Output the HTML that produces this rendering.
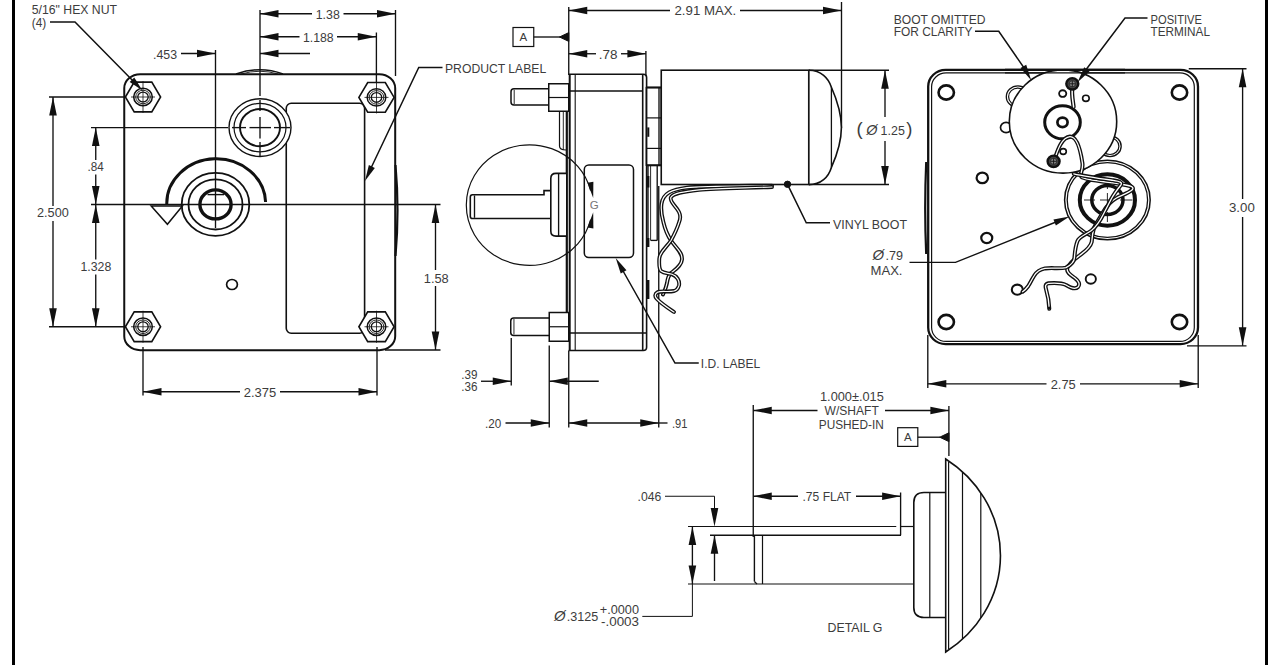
<!DOCTYPE html>
<html lang="en"><head><meta charset="utf-8"><title>Gearmotor Outline Drawing</title>
<style>
html,body{margin:0;padding:0;background:#fff;}
body{width:1280px;height:665px;overflow:hidden;}
svg{display:block;}
svg text{font-family:"Liberation Sans","DejaVu Sans",sans-serif;}
</style></head><body>
<svg width="1280" height="665" viewBox="0 0 1280 665">
<rect width="1280" height="665" fill="#fff"/>
<rect x="12" y="0" width="3" height="665" fill="#000"/>
<rect x="1265" y="0" width="3" height="665" fill="#000"/>
<path d="M236,74 Q260,65.5 283,74" fill="none" stroke="#111" stroke-width="1.5" />
<path d="M241,74 Q260,68.5 278,74" fill="none" stroke="#111" stroke-width="0.9" />
<rect x="124.25" y="74.25" width="270.95" height="275.95" rx="16" ry="14" fill="none" stroke="#111" stroke-width="2"/>
<path d="M395.5,165 Q399.5,210 395.5,256" fill="none" stroke="#111" stroke-width="2.2" />
<rect x="286.25" y="103.3" width="78.35" height="229.95" rx="5" ry="5" fill="none" stroke="#111" stroke-width="1.6"/>
<ellipse cx="260" cy="127.6" rx="31" ry="28.83" fill="#fff" stroke="#111" stroke-width="1.4"/>
<ellipse cx="260" cy="127.6" rx="26" ry="24.18" fill="none" stroke="#111" stroke-width="1.2"/>
<ellipse cx="260" cy="127.6" rx="20" ry="18.6" fill="none" stroke="#111" stroke-width="1.9"/>
<ellipse cx="215.5" cy="204.4" rx="33.8" ry="31.43" fill="#fff" stroke="#111" stroke-width="1.8"/>
<ellipse cx="215.5" cy="204.4" rx="27" ry="25.11" fill="none" stroke="#111" stroke-width="1.8"/>
<ellipse cx="215.5" cy="204.4" rx="15.6" ry="14.51" fill="none" stroke="#111" stroke-width="3.4"/>
<line x1="207.5" y1="194.6" x2="224" y2="194.6" stroke="#111" stroke-width="1.4" />
<path d="M265.6,202 A49.2,44.5 0 0 0 166.8,205" fill="none" stroke="#111" stroke-width="3" />
<path d="M151.2,206 L182.4,206 L167.4,224.3 Z" fill="#fff" stroke="#111" stroke-width="1.5" />
<ellipse cx="232" cy="284.5" rx="5.4" ry="5.02" fill="none" stroke="#111" stroke-width="1.7"/>
<path d="M125.4,97 L134.2,82.15 L151.8,82.15 L160.6,97 L151.8,111.85 L134.2,111.85 Z" fill="#fff" stroke="#111" stroke-width="1.6" />
<ellipse cx="143" cy="97" rx="9.3" ry="8.65" fill="none" stroke="#111" stroke-width="1.5"/>
<ellipse cx="143" cy="97" rx="7.3" ry="6.79" fill="none" stroke="#111" stroke-width="0.9"/>
<ellipse cx="143" cy="97" rx="5.2" ry="4.84" fill="none" stroke="#111" stroke-width="1.3"/>
<line x1="131" y1="97" x2="155" y2="97" stroke="#111" stroke-width="0.8" />
<line x1="143" y1="81" x2="143" y2="113" stroke="#111" stroke-width="0.8" />
<path d="M358.9,97.4 L367.7,82.55000000000001 L385.3,82.55000000000001 L394.1,97.4 L385.3,112.25 L367.7,112.25 Z" fill="#fff" stroke="#111" stroke-width="1.6" />
<ellipse cx="376.5" cy="97.4" rx="9.3" ry="8.65" fill="none" stroke="#111" stroke-width="1.5"/>
<ellipse cx="376.5" cy="97.4" rx="7.3" ry="6.79" fill="none" stroke="#111" stroke-width="0.9"/>
<ellipse cx="376.5" cy="97.4" rx="5.2" ry="4.84" fill="none" stroke="#111" stroke-width="1.3"/>
<line x1="364.5" y1="97.4" x2="388.5" y2="97.4" stroke="#111" stroke-width="0.8" />
<line x1="376.5" y1="81.4" x2="376.5" y2="113.4" stroke="#111" stroke-width="0.8" />
<path d="M125.4,326.75 L134.2,311.9 L151.8,311.9 L160.6,326.75 L151.8,341.6 L134.2,341.6 Z" fill="#fff" stroke="#111" stroke-width="1.6" />
<ellipse cx="143" cy="326.75" rx="9.3" ry="8.65" fill="none" stroke="#111" stroke-width="1.5"/>
<ellipse cx="143" cy="326.75" rx="7.3" ry="6.79" fill="none" stroke="#111" stroke-width="0.9"/>
<ellipse cx="143" cy="326.75" rx="5.2" ry="4.84" fill="none" stroke="#111" stroke-width="1.3"/>
<line x1="131" y1="326.75" x2="155" y2="326.75" stroke="#111" stroke-width="0.8" />
<line x1="143" y1="310.75" x2="143" y2="342.75" stroke="#111" stroke-width="0.8" />
<path d="M358.9,326.75 L367.7,311.9 L385.3,311.9 L394.1,326.75 L385.3,341.6 L367.7,341.6 Z" fill="#fff" stroke="#111" stroke-width="1.6" />
<ellipse cx="376.5" cy="326.75" rx="9.3" ry="8.65" fill="none" stroke="#111" stroke-width="1.5"/>
<ellipse cx="376.5" cy="326.75" rx="7.3" ry="6.79" fill="none" stroke="#111" stroke-width="0.9"/>
<ellipse cx="376.5" cy="326.75" rx="5.2" ry="4.84" fill="none" stroke="#111" stroke-width="1.3"/>
<line x1="364.5" y1="326.75" x2="388.5" y2="326.75" stroke="#111" stroke-width="0.8" />
<line x1="376.5" y1="310.75" x2="376.5" y2="342.75" stroke="#111" stroke-width="0.8" />
<line x1="215.5" y1="50" x2="215.5" y2="228" stroke="#111" stroke-width="1.35" />
<line x1="91" y1="204.5" x2="440.5" y2="204.5" stroke="#111" stroke-width="1.35" />
<line x1="260" y1="10" x2="260" y2="96" stroke="#111" stroke-width="1.35" />
<line x1="260" y1="100" x2="260" y2="111" stroke="#111" stroke-width="1.35" />
<line x1="260" y1="117" x2="260" y2="138.5" stroke="#111" stroke-width="1.35" />
<line x1="260" y1="142" x2="260" y2="157" stroke="#111" stroke-width="1.35" />
<line x1="91" y1="127.6" x2="228" y2="127.6" stroke="#111" stroke-width="1.35" />
<line x1="249.5" y1="127.6" x2="271" y2="127.6" stroke="#111" stroke-width="1.35" />
<line x1="232" y1="127.6" x2="246" y2="127.6" stroke="#111" stroke-width="1.35" />
<line x1="274" y1="127.6" x2="290" y2="127.6" stroke="#111" stroke-width="1.35" />
<line x1="395.5" y1="10" x2="395.5" y2="76" stroke="#111" stroke-width="1.35" />
<line x1="376.4" y1="32.5" x2="376.4" y2="82" stroke="#111" stroke-width="1.35" />
<line x1="49" y1="97" x2="124" y2="97" stroke="#111" stroke-width="1.35" />
<line x1="49" y1="326.75" x2="125" y2="326.75" stroke="#111" stroke-width="1.35" />
<line x1="143" y1="347" x2="143" y2="395.5" stroke="#111" stroke-width="1.35" />
<line x1="377" y1="347" x2="377" y2="395.5" stroke="#111" stroke-width="1.35" />
<line x1="385" y1="350" x2="440.5" y2="350" stroke="#111" stroke-width="1.35" />
<polygon points="260.00,13.75 278.50,9.95 278.50,17.55" fill="#111"/>
<polygon points="395.50,13.75 377.00,17.55 377.00,9.95" fill="#111"/>
<line x1="260" y1="13.75" x2="312" y2="13.75" stroke="#111" stroke-width="1.35" />
<line x1="343.5" y1="13.75" x2="395.5" y2="13.75" stroke="#111" stroke-width="1.35" />
<text x="315.7" y="18.6" font-size="13.2" text-anchor="start" fill="#3c3c3c" textLength="24.1" lengthAdjust="spacingAndGlyphs" >1.38</text>
<polygon points="260.00,36.75 278.50,32.95 278.50,40.55" fill="#111"/>
<polygon points="376.25,36.75 357.75,40.55 357.75,32.95" fill="#111"/>
<line x1="260" y1="36.75" x2="299.5" y2="36.75" stroke="#111" stroke-width="1.35" />
<line x1="337" y1="36.75" x2="376.25" y2="36.75" stroke="#111" stroke-width="1.35" />
<text x="303" y="41.6" font-size="13.2" text-anchor="start" fill="#3c3c3c" textLength="30.7" lengthAdjust="spacingAndGlyphs" >1.188</text>
<polygon points="215.50,53.50 197.00,57.30 197.00,49.70" fill="#111"/>
<line x1="181" y1="53.5" x2="215.5" y2="53.5" stroke="#111" stroke-width="1.35" />
<polygon points="260.00,53.50 278.50,49.70 278.50,57.30" fill="#111"/>
<line x1="260" y1="53.5" x2="310" y2="53.5" stroke="#111" stroke-width="1.35" />
<text x="153" y="58.5" font-size="13.2" text-anchor="start" fill="#3c3c3c" textLength="24" lengthAdjust="spacingAndGlyphs" >.453</text>
<polygon points="53.00,97.00 56.80,115.50 49.20,115.50" fill="#111"/>
<polygon points="53.00,326.75 49.20,308.25 56.80,308.25" fill="#111"/>
<line x1="53" y1="97" x2="53" y2="206" stroke="#111" stroke-width="1.35" />
<line x1="53" y1="221" x2="53" y2="326.75" stroke="#111" stroke-width="1.35" />
<text x="37" y="217" font-size="13.2" text-anchor="start" fill="#3c3c3c" textLength="31.75" lengthAdjust="spacingAndGlyphs" >2.500</text>
<polygon points="95.75,127.60 99.55,146.10 91.95,146.10" fill="#111"/>
<polygon points="95.75,204.50 91.95,186.00 99.55,186.00" fill="#111"/>
<line x1="95.75" y1="127.6" x2="95.75" y2="160" stroke="#111" stroke-width="1.35" />
<line x1="95.75" y1="174.5" x2="95.75" y2="204.5" stroke="#111" stroke-width="1.35" />
<text x="87.5" y="171.3" font-size="13.2" text-anchor="start" fill="#3c3c3c" textLength="16.25" lengthAdjust="spacingAndGlyphs" >.84</text>
<polygon points="95.75,204.50 99.55,223.00 91.95,223.00" fill="#111"/>
<polygon points="95.75,326.75 91.95,308.25 99.55,308.25" fill="#111"/>
<line x1="95.75" y1="204.5" x2="95.75" y2="259.5" stroke="#111" stroke-width="1.35" />
<line x1="95.75" y1="274.5" x2="95.75" y2="326.75" stroke="#111" stroke-width="1.35" />
<text x="80.5" y="271.3" font-size="13.2" text-anchor="start" fill="#3c3c3c" textLength="30.75" lengthAdjust="spacingAndGlyphs" >1.328</text>
<polygon points="143.00,391.75 161.50,387.95 161.50,395.55" fill="#111"/>
<polygon points="377.00,391.75 358.50,395.55 358.50,387.95" fill="#111"/>
<line x1="143" y1="391.75" x2="240" y2="391.75" stroke="#111" stroke-width="1.35" />
<line x1="280" y1="391.75" x2="377" y2="391.75" stroke="#111" stroke-width="1.35" />
<text x="243.75" y="396.75" font-size="13.2" text-anchor="start" fill="#3c3c3c" textLength="32.5" lengthAdjust="spacingAndGlyphs" >2.375</text>
<polygon points="435.50,204.50 439.30,223.00 431.70,223.00" fill="#111"/>
<polygon points="435.50,350.00 431.70,331.50 439.30,331.50" fill="#111"/>
<line x1="435.5" y1="204.5" x2="435.5" y2="270" stroke="#111" stroke-width="1.35" />
<line x1="435.5" y1="286" x2="435.5" y2="350" stroke="#111" stroke-width="1.35" />
<text x="423.75" y="282.5" font-size="13.2" text-anchor="start" fill="#3c3c3c" textLength="25" lengthAdjust="spacingAndGlyphs" >1.58</text>
<text x="31.75" y="14" font-size="12.2" text-anchor="start" fill="#3c3c3c" textLength="85.25" lengthAdjust="spacingAndGlyphs" >5/16&quot; HEX NUT</text>
<text x="31.75" y="27.2" font-size="12" text-anchor="start" fill="#3c3c3c" textLength="14.5" lengthAdjust="spacingAndGlyphs" >(4)</text>
<path d="M50,22 L75,22 L138,86" fill="none" stroke="#111" stroke-width="1.5" />
<polygon points="142.50,90.50 129.70,82.04 134.27,77.56" fill="#111"/>
<text x="445" y="73.25" font-size="12.2" text-anchor="start" fill="#3c3c3c" textLength="101.25" lengthAdjust="spacingAndGlyphs" >PRODUCT LABEL</text>
<path d="M442.5,67.5 L418.75,67.5 L371,168" fill="none" stroke="#111" stroke-width="1.5" />
<polygon points="365.00,181.00 368.85,165.12 374.82,167.94" fill="#111"/>
<line x1="568.75" y1="7" x2="568.75" y2="75" stroke="#111" stroke-width="1.35" />
<line x1="841.5" y1="2" x2="841.5" y2="128" stroke="#111" stroke-width="1.35" />
<line x1="645.9" y1="51" x2="645.9" y2="76" stroke="#111" stroke-width="1.35" />
<polygon points="568.75,10.50 587.25,6.70 587.25,14.30" fill="#111"/>
<polygon points="841.50,10.50 823.00,14.30 823.00,6.70" fill="#111"/>
<line x1="568.75" y1="10.5" x2="670" y2="10.5" stroke="#111" stroke-width="1.35" />
<line x1="740" y1="10.5" x2="841.5" y2="10.5" stroke="#111" stroke-width="1.35" />
<text x="674.5" y="15.2" font-size="13" text-anchor="start" fill="#3c3c3c" textLength="61.75" lengthAdjust="spacingAndGlyphs" >2.91 MAX.</text>
<polygon points="568.75,53.75 587.25,49.95 587.25,57.55" fill="#111"/>
<polygon points="645.90,53.75 627.40,57.55 627.40,49.95" fill="#111"/>
<line x1="568.75" y1="53.75" x2="596" y2="53.75" stroke="#111" stroke-width="1.35" />
<line x1="621" y1="53.75" x2="645.9" y2="53.75" stroke="#111" stroke-width="1.35" />
<text x="598.75" y="58.6" font-size="13.2" text-anchor="start" fill="#3c3c3c" textLength="18.75" lengthAdjust="spacingAndGlyphs" >.78</text>
<rect x="513" y="27.5" width="20.75" height="19.0" rx="0" ry="0" fill="none" stroke="#111" stroke-width="1.2"/>
<text x="523.4" y="41.2" font-size="11.5" text-anchor="middle" fill="#3c3c3c" >A</text>
<line x1="533.75" y1="37" x2="560" y2="37" stroke="#111" stroke-width="1.35" />
<path d="M559.5,37 L568.75,32.6 L568.75,41.4 Z" fill="#111" stroke="#111" stroke-width="1" />
<path d="M548.75,88.75 L514,88.75 Q511,88.75 511,91.75 L511,102 Q511,105 514,105 L548.75,105" fill="#fff" stroke="#111" stroke-width="1.5" />
<line x1="514.2" y1="89.75" x2="514.2" y2="104" stroke="#111" stroke-width="0.9" />
<rect x="548.75" y="83.75" width="20.0" height="27.5" fill="#fff" stroke="#111" stroke-width="1.5"/>
<line x1="548.75" y1="97.5" x2="568.75" y2="97.5" stroke="#111" stroke-width="1.2" />
<path d="M549.25,318 L513.75,318 Q510.75,318 510.75,321 L510.75,332.5 Q510.75,335.5 513.75,335.5 L549.25,335.5" fill="#fff" stroke="#111" stroke-width="1.5" />
<line x1="513.95" y1="319" x2="513.95" y2="334.5" stroke="#111" stroke-width="0.9" />
<rect x="549.25" y="312.5" width="19.5" height="28.75" fill="#fff" stroke="#111" stroke-width="1.5"/>
<line x1="549.25" y1="326.75" x2="568.75" y2="326.75" stroke="#111" stroke-width="1.2" />
<path d="M559.5,111.25 L559.5,146 Q559.5,150 566,150" fill="none" stroke="#111" stroke-width="1.2" />
<line x1="563.3" y1="111.25" x2="563.3" y2="150" stroke="#111" stroke-width="0.9" />
<line x1="566.8" y1="111.25" x2="566.8" y2="312.5" stroke="#111" stroke-width="2.2" />
<line x1="569.7" y1="74.25" x2="569.7" y2="350.5" stroke="#111" stroke-width="2" />
<path d="M568.75,74.25 L643.3,74.25 Q646.6,74.25 646.6,77.5 L646.6,347.2 Q646.6,350.5 643.3,350.5 L568.75,350.5" fill="none" stroke="#111" stroke-width="1.6" />
<line x1="575.2" y1="74.25" x2="575.2" y2="350.5" stroke="#111" stroke-width="1.1" />
<line x1="642.7" y1="74.25" x2="642.7" y2="350.5" stroke="#111" stroke-width="1.6" />
<line x1="569" y1="91" x2="642.7" y2="91" stroke="#111" stroke-width="1.5" />
<line x1="569" y1="333" x2="646.6" y2="333" stroke="#111" stroke-width="1.5" />
<path d="M551,190.6 L544,190.6 L544,194.7 L472.5,194.7 Q470.3,194.7 470.3,197 L470.3,216.2 Q470.3,218.5 472.5,218.5 L551,218.5" fill="#fff" stroke="#111" stroke-width="1.6" />
<line x1="474.5" y1="195.5" x2="474.5" y2="217.8" stroke="#111" stroke-width="1.35" />
<path d="M566,173.4 L556,173.4 Q550.8,173.4 550.8,178.5 L550.8,231 Q550.8,236.1 556,236.1 L566,236.1" fill="#fff" stroke="#111" stroke-width="1.6" />
<line x1="558.6" y1="173.4" x2="558.6" y2="236.1" stroke="#111" stroke-width="1.35" />
<rect x="584.3" y="165" width="49.2" height="92.5" rx="4.5" ry="4.5" fill="#fff" stroke="#111" stroke-width="1.5"/>
<path d="M590.63,219.69 A63.1,60.3 0 1 1 590.63,190.51" fill="none" stroke="#111" stroke-width="1.2" />
<polygon points="593.20,198.00 587.47,182.76 593.38,181.72" fill="#111"/>
<polygon points="593.20,212.20 593.38,228.48 587.47,227.44" fill="#111"/>
<text x="594.3" y="208.6" font-size="11.5" text-anchor="middle" fill="#777" >G</text>
<rect x="646.25" y="87.5" width="14.9" height="77.8" fill="none" stroke="#111" stroke-width="1.3"/>
<line x1="646.25" y1="87.5" x2="661" y2="87.5" stroke="#111" stroke-width="2" />
<line x1="646.25" y1="165.3" x2="661" y2="165.3" stroke="#111" stroke-width="2" />
<line x1="646.25" y1="117.9" x2="661" y2="117.9" stroke="#111" stroke-width="1.2" />
<line x1="646.25" y1="148.4" x2="661" y2="148.4" stroke="#111" stroke-width="1.2" />
<line x1="659" y1="87.5" x2="659" y2="165.3" stroke="#111" stroke-width="1.35" />
<line x1="648.3" y1="127.4" x2="648.3" y2="136.8" stroke="#111" stroke-width="2" />
<line x1="648" y1="165.3" x2="648" y2="240.4" stroke="#111" stroke-width="1.35" />
<line x1="650.6" y1="165.3" x2="650.6" y2="240.4" stroke="#111" stroke-width="0.9" />
<line x1="657.2" y1="165.3" x2="657.2" y2="240.4" stroke="#111" stroke-width="1.35" />
<line x1="650.6" y1="240.4" x2="657.2" y2="240.4" stroke="#111" stroke-width="1.35" />
<line x1="648.2" y1="176" x2="648.2" y2="187.5" stroke="#111" stroke-width="2.4" />
<line x1="648.2" y1="238" x2="648.2" y2="247" stroke="#111" stroke-width="2.4" />
<line x1="648.2" y1="280" x2="648.2" y2="299" stroke="#111" stroke-width="2.4" />
<line x1="658.75" y1="186" x2="658.75" y2="427.5" stroke="#111" stroke-width="1.35" />
<rect x="661.25" y="70.2" width="147.5" height="114.3" fill="#fff" stroke="#111" stroke-width="1.6"/>
<path d="M808.9,70.3 C821,70.3 828.5,78 831.4,87.2 Q841.4,110 841.4,127.5 Q841.4,145 831.4,167.4 C828.5,177 821,184.6 808.9,184.6" fill="#fff" stroke="#111" stroke-width="1.6" />
<line x1="808.9" y1="70.3" x2="808.9" y2="184.6" stroke="#111" stroke-width="1.5" />
<line x1="831.4" y1="87.2" x2="831.4" y2="167.4" stroke="#111" stroke-width="1.3" />
<line x1="808.75" y1="70.2" x2="889" y2="70.2" stroke="#111" stroke-width="1.35" />
<line x1="808.75" y1="184.5" x2="889" y2="184.5" stroke="#111" stroke-width="1.35" />
<line x1="841.5" y1="128" x2="841.5" y2="128" stroke="#111" stroke-width="1.35" />
<polygon points="885.00,70.20 888.80,88.70 881.20,88.70" fill="#111"/>
<polygon points="885.00,184.50 881.20,166.00 888.80,166.00" fill="#111"/>
<line x1="885" y1="70.2" x2="885" y2="117" stroke="#111" stroke-width="1.35" />
<line x1="885" y1="141" x2="885" y2="184.5" stroke="#111" stroke-width="1.35" />
<text x="856.6" y="135.4" font-size="18.5" text-anchor="start" fill="#3c3c3c" >(</text>
<text x="866.3" y="134.6" font-size="14.5" fill="#3c3c3c" font-style="italic">Ø</text>
<text x="880.6" y="134.8" font-size="13.2" text-anchor="start" fill="#3c3c3c" textLength="24.2" lengthAdjust="spacingAndGlyphs" >1.25</text>
<text x="906.3" y="135.4" font-size="18.5" text-anchor="start" fill="#3c3c3c" >)</text>
<ellipse cx="787.5" cy="184.3" rx="3.2" ry="3.2" fill="#111" stroke="#111" stroke-width="1"/>
<path d="M787.5,184.3 L806.25,222.8 L830,222.8" fill="none" stroke="#111" stroke-width="1.5" />
<text x="833" y="228.8" font-size="12.2" text-anchor="start" fill="#3c3c3c" textLength="74" lengthAdjust="spacingAndGlyphs" >VINYL BOOT</text>
<path d="M698.75,363 L675,363 L622.5,270" fill="none" stroke="#111" stroke-width="1.5" />
<polygon points="615.70,258.00 626.47,270.28 620.73,273.54" fill="#111"/>
<text x="700.8" y="368" font-size="12.2" text-anchor="start" fill="#3c3c3c" textLength="59.5" lengthAdjust="spacingAndGlyphs" >I.D. LABEL</text>
<line x1="511.25" y1="338" x2="511.25" y2="385.5" stroke="#111" stroke-width="1.35" />
<line x1="549.25" y1="345.5" x2="549.25" y2="427.5" stroke="#111" stroke-width="1.35" />
<line x1="568.75" y1="350.5" x2="568.75" y2="427.5" stroke="#111" stroke-width="1.35" />
<polygon points="511.25,381.25 492.75,385.05 492.75,377.45" fill="#111"/>
<line x1="481" y1="381.25" x2="511.25" y2="381.25" stroke="#111" stroke-width="1.35" />
<polygon points="549.25,381.25 567.75,377.45 567.75,385.05" fill="#111"/>
<line x1="549.25" y1="381.25" x2="598.75" y2="381.25" stroke="#111" stroke-width="1.35" />
<text x="461.25" y="378.8" font-size="13.2" text-anchor="start" fill="#3c3c3c" textLength="16.25" lengthAdjust="spacingAndGlyphs" >.39</text>
<text x="461.25" y="390.7" font-size="13.2" text-anchor="start" fill="#3c3c3c" textLength="16.25" lengthAdjust="spacingAndGlyphs" >.36</text>
<polygon points="549.25,423.00 530.75,426.80 530.75,419.20" fill="#111"/>
<line x1="505.5" y1="423" x2="549.25" y2="423" stroke="#111" stroke-width="1.35" />
<text x="485" y="428" font-size="13.2" text-anchor="start" fill="#3c3c3c" textLength="16.25" lengthAdjust="spacingAndGlyphs" >.20</text>
<polygon points="568.75,423.00 587.25,419.20 587.25,426.80" fill="#111"/>
<polygon points="658.75,423.00 640.25,426.80 640.25,419.20" fill="#111"/>
<line x1="568.75" y1="423" x2="658.75" y2="423" stroke="#111" stroke-width="1.35" />
<line x1="658.75" y1="423" x2="667.5" y2="423" stroke="#111" stroke-width="1.35" />
<text x="672" y="428" font-size="13.2" text-anchor="start" fill="#3c3c3c" textLength="15.5" lengthAdjust="spacingAndGlyphs" >.91</text>
<path d="M772,185.6 C740,186 700,186 687,187.6 C672,189.5 663,193 661.5,204 C660.5,212 662,217 663.5,222.5 C665.5,231 668,236 671,240.5 C676,248 682.5,252 682,259.5 C681.5,266 675,270 671,273 C668,276 667.5,279 667,283 C666,288 664.5,291 663,294.5" fill="none" stroke="#111" stroke-width="3.9" stroke-linecap="round" stroke-linejoin="round"/>
<path d="M772,185.6 C740,186 700,186 687,187.6 C672,189.5 663,193 661.5,204 C660.5,212 662,217 663.5,222.5 C665.5,231 668,236 671,240.5 C676,248 682.5,252 682,259.5 C681.5,266 675,270 671,273 C668,276 667.5,279 667,283 C666,288 664.5,291 663,294.5" fill="none" stroke="#fff" stroke-width="1.2" stroke-linecap="round" stroke-linejoin="round"/>
<path d="M772,187 C745,188 715,188.3 699,189.8 C684,191.5 673,193 670.8,197.5 C669.5,202 676,206 679,212 C681,216 680.5,219 679,222.5 C677,229 674,235 671,240.5 C666,248 659.5,252 659.3,258.5 C659,264 659,269 661,271 C664,273.5 668,273 672,274.3 C677,276 680,281 679,285.5 C678,289 676.5,290.5 674,291 C668,292.3 661,290.5 657.5,292.3 C654.5,294 654.8,296.5 656.5,298.5 C661,303.5 668,308 674,312" fill="none" stroke="#111" stroke-width="3.9" stroke-linecap="round" stroke-linejoin="round"/>
<path d="M772,187 C745,188 715,188.3 699,189.8 C684,191.5 673,193 670.8,197.5 C669.5,202 676,206 679,212 C681,216 680.5,219 679,222.5 C677,229 674,235 671,240.5 C666,248 659.5,252 659.3,258.5 C659,264 659,269 661,271 C664,273.5 668,273 672,274.3 C677,276 680,281 679,285.5 C678,289 676.5,290.5 674,291 C668,292.3 661,290.5 657.5,292.3 C654.5,294 654.8,296.5 656.5,298.5 C661,303.5 668,308 674,312" fill="none" stroke="#fff" stroke-width="1.2" stroke-linecap="round" stroke-linejoin="round"/>
<path d="M926.2,162 Q924.2,208 926.2,254" fill="none" stroke="#111" stroke-width="2.2" />
<rect x="928.2" y="69.9" width="269.8" height="274.2" rx="17.5" ry="16.5" fill="none" stroke="#111" stroke-width="2.3"/>
<rect x="931.6" y="72.9" width="262.7" height="268.5" rx="14.5" ry="13.8" fill="none" stroke="#111" stroke-width="1.2"/>
<line x1="1188.75" y1="68.7" x2="1246.5" y2="68.7" stroke="#111" stroke-width="1.35" />
<line x1="1187" y1="345.8" x2="1246.5" y2="345.8" stroke="#111" stroke-width="1.35" />
<polygon points="1242.60,68.70 1246.40,87.20 1238.80,87.20" fill="#111"/>
<polygon points="1242.60,345.80 1238.80,327.30 1246.40,327.30" fill="#111"/>
<line x1="1242.6" y1="68.7" x2="1242.6" y2="199" stroke="#111" stroke-width="1.35" />
<line x1="1242.6" y1="217" x2="1242.6" y2="345.8" stroke="#111" stroke-width="1.35" />
<text x="1229" y="212.2" font-size="13.2" text-anchor="start" fill="#3c3c3c" textLength="25.8" lengthAdjust="spacingAndGlyphs" >3.00</text>
<line x1="927.8" y1="335" x2="927.8" y2="388" stroke="#111" stroke-width="1.35" />
<line x1="1198.2" y1="335" x2="1198.2" y2="388" stroke="#111" stroke-width="1.35" />
<polygon points="927.80,383.80 946.30,380.00 946.30,387.60" fill="#111"/>
<polygon points="1198.20,383.80 1179.70,387.60 1179.70,380.00" fill="#111"/>
<line x1="927.8" y1="383.8" x2="1046.5" y2="383.8" stroke="#111" stroke-width="1.35" />
<line x1="1080" y1="383.8" x2="1198.2" y2="383.8" stroke="#111" stroke-width="1.35" />
<text x="1050.7" y="388.8" font-size="13.2" text-anchor="start" fill="#3c3c3c" textLength="25.1" lengthAdjust="spacingAndGlyphs" >2.75</text>
<ellipse cx="946.25" cy="92.5" rx="7.7" ry="7.16" fill="none" stroke="#111" stroke-width="2.6"/>
<ellipse cx="1179.5" cy="92.5" rx="7.7" ry="7.16" fill="none" stroke="#111" stroke-width="2.6"/>
<ellipse cx="946.25" cy="322" rx="7.7" ry="7.16" fill="none" stroke="#111" stroke-width="2.6"/>
<ellipse cx="1179.5" cy="322" rx="7.7" ry="7.16" fill="none" stroke="#111" stroke-width="2.6"/>
<ellipse cx="982.3" cy="177.9" rx="5.7" ry="5.3" fill="none" stroke="#111" stroke-width="2.2"/>
<ellipse cx="986.75" cy="238" rx="5.5" ry="5.12" fill="none" stroke="#111" stroke-width="2.2"/>
<ellipse cx="1017.3" cy="289.7" rx="5.5" ry="5.12" fill="none" stroke="#111" stroke-width="2.1"/>
<ellipse cx="1090.8" cy="279" rx="5.1" ry="4.74" fill="none" stroke="#111" stroke-width="1.9"/>
<ellipse cx="1107.4" cy="200" rx="42.8" ry="39.8" fill="#fff" stroke="#111" stroke-width="1.5"/>
<ellipse cx="1107.4" cy="200" rx="40.2" ry="37.39" fill="none" stroke="#111" stroke-width="1.3"/>
<ellipse cx="1107.4" cy="200" rx="27.6" ry="25.67" fill="none" stroke="#111" stroke-width="4"/>
<ellipse cx="1107.4" cy="200" rx="15.6" ry="14.51" fill="none" stroke="#111" stroke-width="3.5"/>
<line x1="1084" y1="200" x2="1095" y2="200" stroke="#111" stroke-width="0.9" />
<line x1="1100" y1="200" x2="1115" y2="200" stroke="#111" stroke-width="0.9" />
<line x1="1120" y1="200" x2="1132.5" y2="200" stroke="#111" stroke-width="0.9" />
<line x1="1107.4" y1="178" x2="1107.4" y2="189" stroke="#111" stroke-width="0.9" />
<line x1="1107.4" y1="193" x2="1107.4" y2="207" stroke="#111" stroke-width="0.9" />
<line x1="1107.4" y1="212" x2="1107.4" y2="222" stroke="#111" stroke-width="0.9" />
<ellipse cx="1017.9" cy="96.7" rx="11.6" ry="10.79" fill="none" stroke="#111" stroke-width="1.3"/>
<ellipse cx="1017.9" cy="96.7" rx="9.3" ry="8.65" fill="none" stroke="#111" stroke-width="1.2"/>
<ellipse cx="1006.1" cy="127.5" rx="5.6" ry="5.21" fill="none" stroke="#111" stroke-width="1.7"/>
<ellipse cx="1110" cy="146.2" rx="11.2" ry="10.42" fill="#fff" stroke="#111" stroke-width="1.3"/>
<ellipse cx="1110" cy="146.2" rx="8.9" ry="8.28" fill="none" stroke="#111" stroke-width="1.2"/>
<ellipse cx="1063" cy="121.5" rx="53.7" ry="51.6" fill="#fff" stroke="#111" stroke-width="1.6"/>
<line x1="1005" y1="69.9" x2="1125" y2="69.9" stroke="#111" stroke-width="2.3" />
<line x1="1005" y1="72.9" x2="1125" y2="72.9" stroke="#111" stroke-width="1.2" />
<ellipse cx="1062.5" cy="122.3" rx="17.8" ry="16.55" fill="none" stroke="#111" stroke-width="3"/>
<ellipse cx="1062.5" cy="122.3" rx="5.1" ry="4.74" fill="none" stroke="#111" stroke-width="2.7"/>
<ellipse cx="1062.7" cy="93.6" rx="3.6" ry="3.35" fill="none" stroke="#111" stroke-width="1.8"/>
<ellipse cx="1085.9" cy="98.3" rx="3.3" ry="3.07" fill="none" stroke="#111" stroke-width="1.6"/>
<ellipse cx="1063.2" cy="151.5" rx="3.1" ry="2.88" fill="none" stroke="#111" stroke-width="1.6"/>
<path d="M1072.3,89 C1071.5,95 1073,101 1073.6,107" fill="none" stroke="#111" stroke-width="4.2" stroke-linecap="round" stroke-linejoin="round"/>
<path d="M1072.3,89 C1071.5,95 1073,101 1073.6,107" fill="none" stroke="#fff" stroke-width="1.5" stroke-linecap="round" stroke-linejoin="round"/>
<path d="M1055,158 C1058,149 1062,137.5 1070,136.6 C1077,136.5 1080.5,150 1082.4,163 C1083.5,170 1079,174.5 1081.5,177 C1086,180.5 1105,181.5 1120.7,184 C1129,185.5 1134.5,186.5 1132.5,189.5 C1129,193 1121,195.5 1116.5,198 C1110,201.5 1106,207 1102.5,213 C1099,219.5 1095.5,224 1094,228 C1092.5,233 1092,238 1091.7,242 C1090,248.5 1084,252 1079.5,255.5 C1074,259.5 1069,263 1067.2,268.5 C1066.3,273 1071.5,275.5 1075.2,278.3 C1078.5,280.8 1080.5,284 1078,287 C1075,290 1070,287.5 1066,285 C1061,282.5 1053,283 1048.5,283.3 C1045,284 1045.3,286.5 1046,289 C1047.5,294 1049,301 1049.3,308.8" fill="none" stroke="#111" stroke-width="4" stroke-linecap="round" stroke-linejoin="round"/>
<path d="M1055,158 C1058,149 1062,137.5 1070,136.6 C1077,136.5 1080.5,150 1082.4,163 C1083.5,170 1079,174.5 1081.5,177 C1086,180.5 1105,181.5 1120.7,184 C1129,185.5 1134.5,186.5 1132.5,189.5 C1129,193 1121,195.5 1116.5,198 C1110,201.5 1106,207 1102.5,213 C1099,219.5 1095.5,224 1094,228 C1092.5,233 1092,238 1091.7,242 C1090,248.5 1084,252 1079.5,255.5 C1074,259.5 1069,263 1067.2,268.5 C1066.3,273 1071.5,275.5 1075.2,278.3 C1078.5,280.8 1080.5,284 1078,287 C1075,290 1070,287.5 1066,285 C1061,282.5 1053,283 1048.5,283.3 C1045,284 1045.3,286.5 1046,289 C1047.5,294 1049,301 1049.3,308.8" fill="none" stroke="#fff" stroke-width="1.3" stroke-linecap="round" stroke-linejoin="round"/>
<path d="M1073.8,173.8 C1085,176.5 1100,178.5 1113,180.3 C1120,181.3 1123,182.5 1120.5,185.5 C1117,190 1114,194 1111.5,198.5 C1109,203.5 1106,209 1103.5,214 C1100.5,220 1097,226 1091.5,230.5 C1086,234.5 1079.5,236.5 1077.5,241 C1075.5,246 1074.8,252 1074.4,258 C1074,262.5 1070,265.5 1066,267.6 C1060,268.8 1051,267.6 1045,268.4 C1039.5,269.5 1036,272.5 1034,276 C1031.5,280 1030,283.5 1028.3,286 C1026.5,288.5 1024.5,290.5 1022.6,291.7" fill="none" stroke="#111" stroke-width="4" stroke-linecap="round" stroke-linejoin="round"/>
<path d="M1073.8,173.8 C1085,176.5 1100,178.5 1113,180.3 C1120,181.3 1123,182.5 1120.5,185.5 C1117,190 1114,194 1111.5,198.5 C1109,203.5 1106,209 1103.5,214 C1100.5,220 1097,226 1091.5,230.5 C1086,234.5 1079.5,236.5 1077.5,241 C1075.5,246 1074.8,252 1074.4,258 C1074,262.5 1070,265.5 1066,267.6 C1060,268.8 1051,267.6 1045,268.4 C1039.5,269.5 1036,272.5 1034,276 C1031.5,280 1030,283.5 1028.3,286 C1026.5,288.5 1024.5,290.5 1022.6,291.7" fill="none" stroke="#fff" stroke-width="1.3" stroke-linecap="round" stroke-linejoin="round"/>
<circle cx="1049.3" cy="308" r="1.6" fill="#111"/>
<ellipse cx="1072.3" cy="83.8" rx="6" ry="5.7" fill="#444" stroke="#111" stroke-width="2.4"/>
<ellipse cx="1072.3" cy="83.8" rx="3.2" ry="3.04" fill="#888" stroke="#222" stroke-width="0.8"/>
<line x1="1069.3" y1="83.8" x2="1075.3" y2="83.8" stroke="#111" stroke-width="0.9" />
<line x1="1072.3" y1="80.8" x2="1072.3" y2="86.8" stroke="#111" stroke-width="0.9" />
<ellipse cx="1053.6" cy="161.3" rx="6" ry="5.7" fill="#444" stroke="#111" stroke-width="2.4"/>
<ellipse cx="1053.6" cy="161.3" rx="3.2" ry="3.04" fill="#888" stroke="#222" stroke-width="0.8"/>
<line x1="1050.6" y1="161.3" x2="1056.6" y2="161.3" stroke="#111" stroke-width="0.9" />
<line x1="1053.6" y1="158.3" x2="1053.6" y2="164.3" stroke="#111" stroke-width="0.9" />
<text x="893.75" y="23.75" font-size="12.2" text-anchor="start" fill="#3c3c3c" textLength="91.75" lengthAdjust="spacingAndGlyphs" >BOOT OMITTED</text>
<text x="893.75" y="36.25" font-size="12.2" text-anchor="start" fill="#3c3c3c" textLength="78.75" lengthAdjust="spacingAndGlyphs" >FOR CLARITY</text>
<path d="M975,31.25 L998.75,31.25 L1025.5,70" fill="none" stroke="#111" stroke-width="1.5" />
<polygon points="1031.20,80.20 1020.47,67.88 1026.22,64.64" fill="#111"/>
<text x="1150.5" y="23.75" font-size="12.2" text-anchor="start" fill="#3c3c3c" textLength="51.5" lengthAdjust="spacingAndGlyphs" >POSITIVE</text>
<text x="1150.5" y="36.25" font-size="12.2" text-anchor="start" fill="#3c3c3c" textLength="59.5" lengthAdjust="spacingAndGlyphs" >TERMINAL</text>
<path d="M1147.5,18 L1125,18 L1085,71" fill="none" stroke="#111" stroke-width="1.5" />
<polygon points="1077.60,82.30 1084.20,67.36 1089.58,71.19" fill="#111"/>
<text x="872.5" y="259.8" font-size="15" fill="#3c3c3c" font-style="italic">Ø</text>
<text x="885.5" y="260" font-size="13.2" text-anchor="start" fill="#3c3c3c" textLength="17.5" lengthAdjust="spacingAndGlyphs" >.79</text>
<text x="870.5" y="274.5" font-size="12.2" text-anchor="start" fill="#3c3c3c" textLength="32" lengthAdjust="spacingAndGlyphs" >MAX.</text>
<path d="M909.5,262.4 L955.5,262.4 L1056,222" fill="none" stroke="#111" stroke-width="1.35" />
<polygon points="1069.50,216.50 1055.90,225.55 1053.43,219.43" fill="#111"/>
<line x1="753.25" y1="405" x2="753.25" y2="537" stroke="#111" stroke-width="1.35" />
<line x1="948.9" y1="406" x2="948.9" y2="456" stroke="#111" stroke-width="1.35" />
<polygon points="753.25,410.50 771.75,406.70 771.75,414.30" fill="#111"/>
<polygon points="948.90,410.50 930.40,414.30 930.40,406.70" fill="#111"/>
<line x1="753.25" y1="410.5" x2="817.5" y2="410.5" stroke="#111" stroke-width="1.35" />
<line x1="885" y1="410.5" x2="948.9" y2="410.5" stroke="#111" stroke-width="1.35" />
<text x="820" y="400.5" font-size="12.6" text-anchor="start" fill="#3c3c3c" textLength="63.75" lengthAdjust="spacingAndGlyphs" >1.000±.015</text>
<text x="824.5" y="415" font-size="12.2" text-anchor="start" fill="#3c3c3c" textLength="54.25" lengthAdjust="spacingAndGlyphs" >W/SHAFT</text>
<text x="818.75" y="429.3" font-size="12.2" text-anchor="start" fill="#3c3c3c" textLength="65" lengthAdjust="spacingAndGlyphs" >PUSHED-IN</text>
<rect x="897.7" y="427.7" width="20.1" height="18.7" rx="0" ry="0" fill="none" stroke="#111" stroke-width="1.2"/>
<text x="907.8" y="441.2" font-size="11.5" text-anchor="middle" fill="#3c3c3c" >A</text>
<line x1="917.8" y1="437.2" x2="940" y2="437.2" stroke="#111" stroke-width="1.35" />
<path d="M939.7,437.2 L948.9,432.8 L948.9,441.6 Z" fill="#111" stroke="#111" stroke-width="1" />
<line x1="900.6" y1="492.5" x2="900.6" y2="535.2" stroke="#111" stroke-width="1.35" />
<polygon points="753.25,496.25 771.75,492.45 771.75,500.05" fill="#111"/>
<polygon points="900.60,496.25 882.10,500.05 882.10,492.45" fill="#111"/>
<line x1="753.25" y1="496.25" x2="798" y2="496.25" stroke="#111" stroke-width="1.35" />
<line x1="856" y1="496.25" x2="900.6" y2="496.25" stroke="#111" stroke-width="1.35" />
<text x="802.5" y="501.25" font-size="12.6" text-anchor="start" fill="#3c3c3c" textLength="48.75" lengthAdjust="spacingAndGlyphs" >.75 FLAT</text>
<text x="637.5" y="501.25" font-size="13.2" text-anchor="start" fill="#3c3c3c" textLength="23.75" lengthAdjust="spacingAndGlyphs" >.046</text>
<path d="M665,496.25 L714.5,496.25 L714.5,510" fill="none" stroke="#111" stroke-width="1" />
<polygon points="714.50,526.50 710.70,508.00 718.30,508.00" fill="#111"/>
<polygon points="714.50,535.25 718.30,553.75 710.70,553.75" fill="#111"/>
<line x1="714.5" y1="535.25" x2="714.5" y2="581" stroke="#111" stroke-width="1.35" />
<line x1="688" y1="526.5" x2="896.25" y2="526.5" stroke="#111" stroke-width="1.2" />
<line x1="901" y1="526.5" x2="913.75" y2="526.5" stroke="#111" stroke-width="1.2" />
<line x1="710" y1="535.25" x2="901" y2="535.25" stroke="#111" stroke-width="1.3" />
<line x1="688" y1="584" x2="913.75" y2="584" stroke="#111" stroke-width="1.2" />
<line x1="754.4" y1="535.25" x2="754.4" y2="581.5" stroke="#111" stroke-width="1.4" />
<path d="M754.4,581.5 L757,584" fill="none" stroke="#111" stroke-width="1.2" />
<line x1="762.5" y1="535.25" x2="762.5" y2="584" stroke="#111" stroke-width="1.2" />
<polygon points="692.40,526.50 696.20,545.00 688.60,545.00" fill="#111"/>
<polygon points="692.40,584.00 688.60,565.50 696.20,565.50" fill="#111"/>
<line x1="692.4" y1="526.5" x2="692.4" y2="584" stroke="#111" stroke-width="1.35" />
<path d="M692.4,584 L692.4,616.4 L642.3,616.4" fill="none" stroke="#111" stroke-width="1" />
<text x="554" y="621" font-size="15" fill="#3c3c3c" font-style="italic">Ø</text>
<text x="566.8" y="621" font-size="13.6" text-anchor="start" fill="#3c3c3c" textLength="31.5" lengthAdjust="spacingAndGlyphs" >.3125</text>
<text x="599.8" y="614.1" font-size="12" text-anchor="start" fill="#3c3c3c" textLength="39.2" lengthAdjust="spacingAndGlyphs" >+.0000</text>
<text x="601" y="626.2" font-size="12" text-anchor="start" fill="#3c3c3c" textLength="38" lengthAdjust="spacingAndGlyphs" >-.0003</text>
<text x="827.5" y="632" font-size="12.2" text-anchor="start" fill="#3c3c3c" textLength="55" lengthAdjust="spacingAndGlyphs" >DETAIL G</text>
<path d="M945.7,492.5 L924,492.5 Q913.8,492.5 913.8,502.5 L913.8,607.5 Q913.8,617.5 924,617.5 L945.7,617.5" fill="#fff" stroke="#111" stroke-width="1.6" />
<line x1="929.8" y1="492.5" x2="929.8" y2="617.5" stroke="#111" stroke-width="1.2" />
<path d="M945.7,459 A126,117 0 0 1 945.7,652 Z" fill="#fff" stroke="#111" stroke-width="1.6" />
<line x1="948.6" y1="462" x2="948.6" y2="649" stroke="#111" stroke-width="1.2" />
<line x1="962.5" y1="471.9452873860487" x2="962.5" y2="639.0547126139513" stroke="#111" stroke-width="1.2" />
<line x1="980.8" y1="492.9763820134947" x2="980.8" y2="618.0236179865053" stroke="#111" stroke-width="1.2" />
</svg>
</body></html>
